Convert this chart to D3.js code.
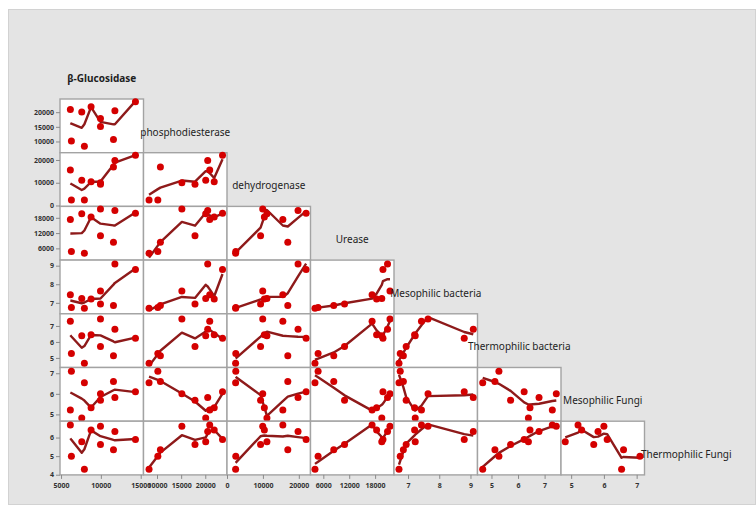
<!DOCTYPE html>
<html>
<head>
<meta charset="utf-8">
<script src="https://cdn.jsdelivr.net/npm/d3@7"></script>
<style>
  html, body { margin: 0; padding: 0; background: #ffffff; }
  svg { display: block; }
</style>
</head>
<body>
<svg id="chart" width="756" height="505"></svg>
<script>
// Soil enzyme activities and microbial counts, ten samples
const variableNames = ["β-Glucosidase", "phosphodiesterase", "dehydrogenase", "Urease",
  "Mesophilic bacteria", "Thermophilic bacteria", "Mesophilic Fungi", "Thermophilic Fungi"];

const betaGlucosidase      = [6170, 6300, 7600, 7930, 8770, 9950, 9950, 11580, 11760, 14340];
const phosphodiesterase    = [20920, 10170, 20090, 8350, 21850, 15150, 17870, 10700, 20500, 23570];
const dehydrogenase        = [15550, 2450, 11120, 2400, 10400, 9950, 9350, 16930, 19780, 22030];
const urease               = [17300, 4790, 19550, 4070, 18350, 21450, 10920, 8420, 20880, 19820];
const mesophilicBacteria   = [7.43, 6.75, 7.23, 6.71, 7.21, 7.64, 6.94, 6.85, 9.09, 8.80];
const thermophilicBacteria = [7.29, 5.28, 6.39, 4.67, 6.45, 7.44, 5.72, 5.13, 6.79, 6.23];
const mesophilicFungi      = [5.21, 7.10, 4.82, 6.54, 5.32, 6.00, 5.69, 6.60, 5.82, 6.10];
const thermophilicFungi    = [6.68, 5.00, 5.77, 4.30, 6.40, 6.61, 5.62, 5.34, 6.33, 5.90];

const series = [betaGlucosidase, phosphodiesterase, dehydrogenase, urease,
  mesophilicBacteria, thermophilicBacteria, mesophilicFungi, thermophilicFungi];

// Tick labels for the column (x) axes and row (y) axes
const columnTicks = [[5000, 10000, 15000], [10000, 15000, 20000], [0, 10000, 20000],
  [6000, 12000, 18000], [7, 8, 9], [5, 6, 7], [5, 6, 7]];
const rowTicks = [[10000, 15000, 20000], [0, 10000, 20000], [6000, 12000, 18000],
  [7, 8, 9], [5, 6, 7], [5, 6, 7], [4, 5, 6]];

// Axis extents (layout)
const columnDomains = [[4870, 15350], [7200, 24500], [0, 23250], [3030, 22380],
  [6.55, 9.225], [4.474, 7.617], [4.69, 7.24]];
const rowDomains = [[6170, 24500], [-400, 23200], [1400, 22470], [6.41, 9.30],
  [4.40, 7.76], [4.67, 7.28], [3.99, 6.88]];

const gridLeft = 60, gridTop = 99, cellW = 83.5, cellH = 53.7, nCells = 7;
const gridBottom = gridTop + nCells * cellH;

const svg = d3.select("#chart");

// Frame background
svg.append("rect").attr("x", 8.5).attr("y", 9.5).attr("width", 747).attr("height", 495)
  .attr("fill", "#e4e4e4").attr("stroke", "#d2d2d2");

const xScales = columnDomains.map((d, c) =>
  d3.scaleLinear().domain(d).range([gridLeft + c * cellW, gridLeft + (c + 1) * cellW]));
const yScales = rowDomains.map((d, r) =>
  d3.scaleLinear().domain(d).range([gridTop + (r + 1) * cellH, gridTop + r * cellH]));

// Local linear loess with Epanechnikov weights over half of the points
function loess(xs, ys, frac) {
  const n = xs.length;
  const k = Math.ceil(frac * n);
  const ux = Array.from(new Set(xs)).sort((a, b) => a - b);
  return ux.map(x0 => {
    const dist = xs.map(x => Math.abs(x - x0));
    const h = dist.slice().sort((a, b) => a - b)[k - 1] || 1e-9;
    let sw = 0, swx = 0, swy = 0, swxx = 0, swxy = 0;
    for (let i = 0; i < n; i++) {
      const u = dist[i] / h;
      const w = u < 1 ? 1 - u * u : 0;
      sw += w; swx += w * xs[i]; swy += w * ys[i];
      swxx += w * xs[i] * xs[i]; swxy += w * xs[i] * ys[i];
    }
    const den = sw * swxx - swx * swx;
    let y0;
    if (Math.abs(den) < 1e-12 * Math.max(1, sw * swxx)) {
      y0 = swy / sw;
    } else {
      const b = (sw * swxy - swx * swy) / den;
      const a = (swy - b * swx) / sw;
      y0 = a + b * x0;
    }
    return [x0, y0];
  });
}

const panels = svg.append("g");
for (let r = 0; r < nCells; r++) {
  for (let c = 0; c <= r; c++) {
    const xs = series[c], ys = series[r + 1];
    const xS = xScales[c], yS = yScales[r];
    const g = panels.append("g");
    g.append("rect")
      .attr("x", gridLeft + c * cellW).attr("y", gridTop + r * cellH)
      .attr("width", cellW).attr("height", cellH)
      .attr("fill", "#ffffff").attr("stroke", "#a3a3a3").attr("stroke-width", 1.4);
    const fit = loess(xs, ys, 0.5);
    g.append("path")
      .datum(fit)
      .attr("fill", "none")
      .attr("stroke", "#8e1a1a")
      .attr("stroke-width", 2.4)
      .attr("stroke-linejoin", "round")
      .attr("d", d3.line().x(d => xS(d[0])).y(d => yS(d[1])));
    g.selectAll("circle")
      .data(xs.map((x, i) => [x, ys[i]]))
      .join("circle")
      .attr("cx", d => xS(d[0]))
      .attr("cy", d => yS(d[1]))
      .attr("r", 3.5)
      .attr("fill", "#d40000");
  }
}

const fmt = d3.format("d");
// Left axes
rowTicks.forEach((ticks, r) => {
  const ax = svg.append("g").attr("transform", `translate(${gridLeft},0)`)
    .call(d3.axisLeft(yScales[r]).tickValues(ticks).tickFormat(fmt).tickSize(4).tickPadding(2));
  ax.select(".domain").remove();
  ax.selectAll(".tick line").attr("stroke", "#8a8a8a");
  ax.selectAll(".tick text").attr("font-family", "'Noto Sans', sans-serif")
    .attr("font-size", 7).attr("font-weight", "bold").attr("fill", "#333");
});
// Bottom axes
columnTicks.forEach((ticks, c) => {
  const ax = svg.append("g").attr("transform", `translate(0,${gridBottom})`)
    .call(d3.axisBottom(xScales[c]).tickValues(ticks).tickFormat(fmt).tickSize(4).tickPadding(4));
  ax.select(".domain").remove();
  ax.selectAll(".tick line").attr("stroke", "#8a8a8a");
  ax.selectAll(".tick text").attr("font-family", "'Noto Sans', sans-serif")
    .attr("font-size", 7).attr("font-weight", "bold").attr("fill", "#333");
});

// Variable names on the diagonal
variableNames.forEach((name, v) => {
  const row = v - 1, col = v;
  const cx = v === 0 ? gridLeft + 0.5 * cellW : gridLeft + (col + 0.5) * cellW;
  const cy = gridTop + (row + 0.5) * cellH + 7;
  svg.append("text")
    .attr("x", cx).attr("y", cy)
    .attr("text-anchor", "middle")
    .attr("dominant-baseline", "middle")
    .attr("font-family", "'Noto Sans', sans-serif")
    .attr("font-size", 10)
    .attr("font-weight", v === 0 ? "bold" : "normal")
    .attr("fill", "#1e1e1e")
    .text(name);
});
</script>
</body>
</html>
